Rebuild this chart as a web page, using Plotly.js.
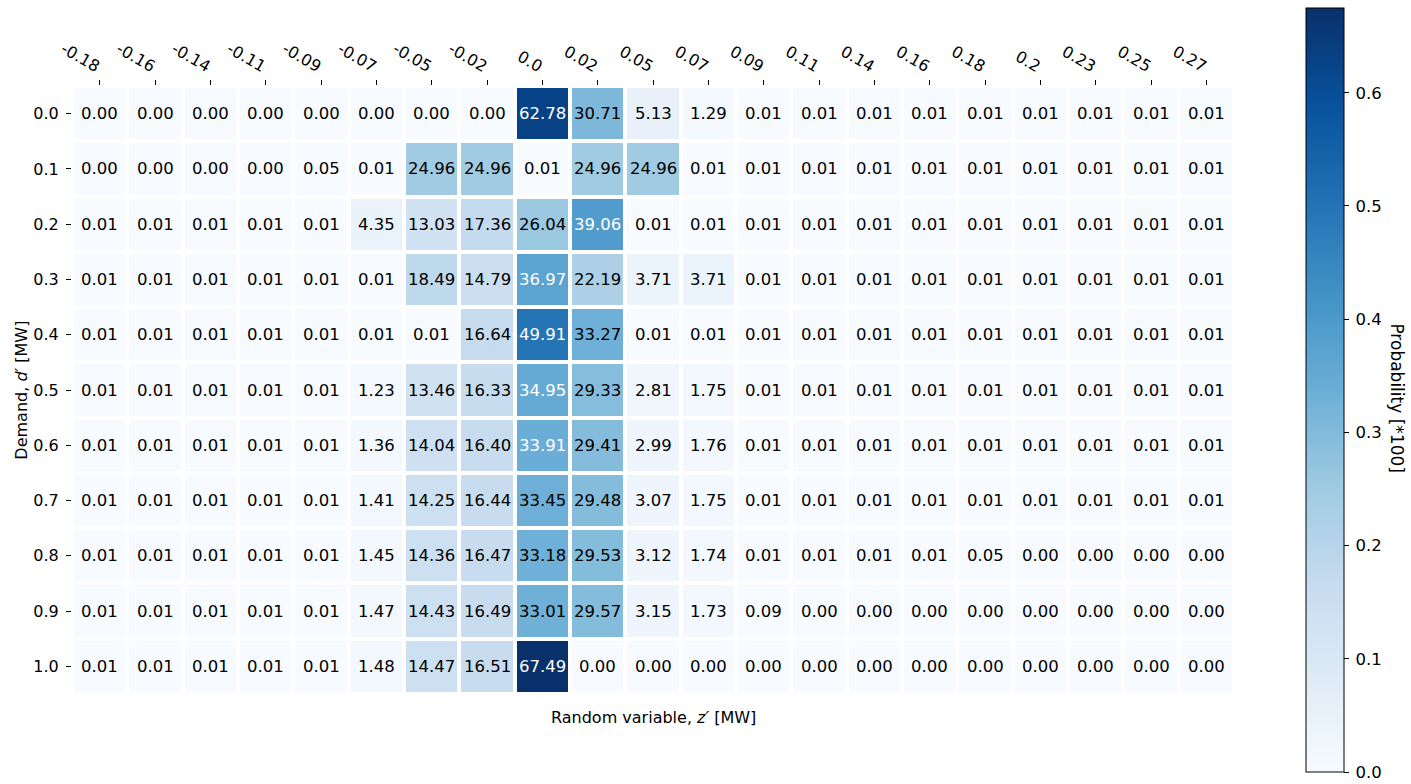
<!DOCTYPE html>
<html>
<head>
<meta charset="utf-8">
<script src="https://cdn.plot.ly/plotly-3.0.1.min.js"></script>
<style>html,body{margin:0;padding:0;background:#fff;}#chart{width:1411px;height:784px;}</style>
</head>
<body>
<div id="chart"></div>
<script>
// Tick labels
const zLabels = ["-0.18","-0.16","-0.14","-0.11","-0.09","-0.07","-0.05","-0.02","0.0","0.02","0.05","0.07","0.09","0.11","0.14","0.16","0.18","0.2","0.23","0.25","0.27"];
const dLabels = ["0.0","0.1","0.2","0.3","0.4","0.5","0.6","0.7","0.8","0.9","1.0"];
const cbLabels = ["0.0","0.1","0.2","0.3","0.4","0.5","0.6"];
const cbVals = [0, 0.1, 0.2, 0.3, 0.4, 0.5, 0.6];

// Probability values (*100), one array per demand row
const row00 = [0.00,0.00,0.00,0.00,0.00,0.00,0.00,0.00,62.78,30.71,5.13,1.29,0.01,0.01,0.01,0.01,0.01,0.01,0.01,0.01,0.01];
const row01 = [0.00,0.00,0.00,0.00,0.05,0.01,24.96,24.96,0.01,24.96,24.96,0.01,0.01,0.01,0.01,0.01,0.01,0.01,0.01,0.01,0.01];
const row02 = [0.01,0.01,0.01,0.01,0.01,4.35,13.03,17.36,26.04,39.06,0.01,0.01,0.01,0.01,0.01,0.01,0.01,0.01,0.01,0.01,0.01];
const row03 = [0.01,0.01,0.01,0.01,0.01,0.01,18.49,14.79,36.97,22.19,3.71,3.71,0.01,0.01,0.01,0.01,0.01,0.01,0.01,0.01,0.01];
const row04 = [0.01,0.01,0.01,0.01,0.01,0.01,0.01,16.64,49.91,33.27,0.01,0.01,0.01,0.01,0.01,0.01,0.01,0.01,0.01,0.01,0.01];
const row05 = [0.01,0.01,0.01,0.01,0.01,1.23,13.46,16.33,34.95,29.33,2.81,1.75,0.01,0.01,0.01,0.01,0.01,0.01,0.01,0.01,0.01];
const row06 = [0.01,0.01,0.01,0.01,0.01,1.36,14.04,16.40,33.91,29.41,2.99,1.76,0.01,0.01,0.01,0.01,0.01,0.01,0.01,0.01,0.01];
const row07 = [0.01,0.01,0.01,0.01,0.01,1.41,14.25,16.44,33.45,29.48,3.07,1.75,0.01,0.01,0.01,0.01,0.01,0.01,0.01,0.01,0.01];
const row08 = [0.01,0.01,0.01,0.01,0.01,1.45,14.36,16.47,33.18,29.53,3.12,1.74,0.01,0.01,0.01,0.01,0.05,0.00,0.00,0.00,0.00];
const row09 = [0.01,0.01,0.01,0.01,0.01,1.47,14.43,16.49,33.01,29.57,3.15,1.73,0.09,0.00,0.00,0.00,0.00,0.00,0.00,0.00,0.00];
const row10 = [0.01,0.01,0.01,0.01,0.01,1.48,14.47,16.51,67.49,0.00,0.00,0.00,0.00,0.00,0.00,0.00,0.00,0.00,0.00,0.00,0.00];
const rows = [row00,row01,row02,row03,row04,row05,row06,row07,row08,row09,row10];

const FONT = "DejaVu Sans, Liberation Sans, sans-serif";
const zVals = rows.map(r => r.map(v => v / 100));
const xIdx = zLabels.map((_, i) => i);
const yIdx = dLabels.map((_, i) => i);

const blues = [
  [0.0, "#f7fbff"], [0.125, "#deebf7"], [0.25, "#c6dbef"], [0.375, "#9ecae1"],
  [0.5, "#6baed6"], [0.625, "#4292c6"], [0.75, "#2171b5"], [0.875, "#08519c"], [1.0, "#08306b"]
];
const zmax = 0.6749;

const annotations = [];
rows.forEach((r, yi) => {
  r.forEach((v, xi) => {
    annotations.push({
      x: xi, y: yi, xref: "x", yref: "y", showarrow: false,
      text: v.toFixed(2),
      font: {family: FONT, size: 16.5, color: (v / 100) > 0.337 ? "#ffffff" : "#000000"}
    });
  });
});
annotations.push({
  xref: "paper", yref: "paper", x: 0.5, y: -0.038, xanchor: "center", yanchor: "middle",
  showarrow: false, text: "Random variable, <i>z′</i> [MW]",
  font: {family: FONT, size: 16, color: "#000"}
});
annotations.push({
  xref: "paper", yref: "paper", x: -0.0442, y: 0.5, xanchor: "center", yanchor: "middle",
  showarrow: false, textangle: -90, text: "Demand, <i>d′</i> [MW]",
  font: {family: FONT, size: 16, color: "#000"}
});
annotations.push({
  xref: "paper", yref: "paper", x: 1.1407, y: 0.487, xanchor: "center", yanchor: "middle",
  showarrow: false, textangle: 90, text: "Probability [*100]",
  font: {family: FONT, size: 17, color: "#000"}
});

const trace = {
  type: "heatmap",
  x: xIdx, y: yIdx, z: zVals,
  zmin: 0, zmax: zmax,
  colorscale: blues,
  xgap: 4, ygap: 4,
  hoverinfo: "skip",
  colorbar: {
    thickness: 38, thicknessmode: "pixels",
    len: 764, lenmode: "pixels",
    x: 1.0623, xanchor: "left", xpad: 0,
    y: 0.5, yanchor: "middle", ypad: 0,
    outlinewidth: 1, outlinecolor: "#000",
    ticks: "outside", ticklen: 5, tickwidth: 1, tickcolor: "#000",
    tickvals: cbVals,
    ticktext: cbLabels.map(s => "\u2009" + s),
    tickfont: {family: FONT, size: 16.5, color: "#000"}
  }
};

const layout = {
  width: 1411, height: 784,
  margin: {l: 72, r: 177, t: 86, b: 90},
  paper_bgcolor: "#fff", plot_bgcolor: "#fff",
  showlegend: false,
  xaxis: {
    side: "top", range: [-0.5, 20.5], showgrid: false, zeroline: false, showline: false,
    tickmode: "array", tickvals: xIdx, ticktext: zLabels, tickangle: 30,
    ticks: "outside", ticklen: 5, tickwidth: 1, tickcolor: "#000",
    tickfont: {family: FONT, size: 16, color: "#000"}
  },
  yaxis: {
    range: [10.5, -0.5], showgrid: false, zeroline: false, showline: false,
    tickmode: "array", tickvals: yIdx, ticktext: dLabels,
    ticks: "outside", ticklen: 5, tickwidth: 1, tickcolor: "#000",
    ticklabelstandoff: 4,
    tickfont: {family: FONT, size: 16, color: "#000"}
  },
  annotations: annotations
};

Plotly.newPlot("chart", [trace], layout, {staticPlot: true, displayModeBar: false});
</script>
</body>
</html>
